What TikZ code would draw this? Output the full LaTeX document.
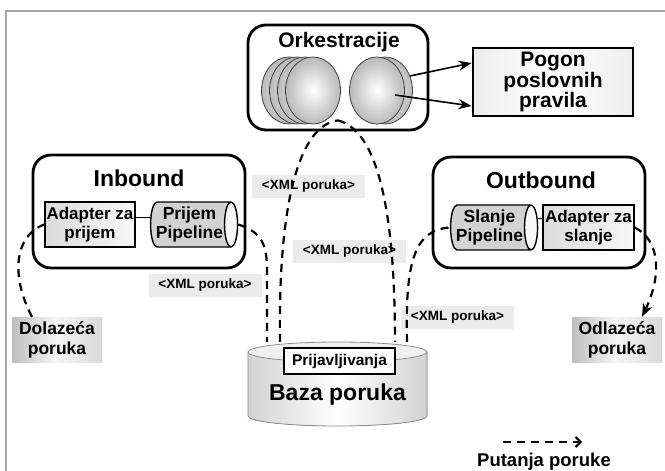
\documentclass[tikz,border=0pt]{standalone}
\usepackage{fontspec}
\setmainfont{Liberation Sans}
\usepackage{tikz}
\usetikzlibrary{shapes.geometric, arrows.meta, positioning, calc}
\definecolor{framegray}{HTML}{A6A6A6}
\definecolor{labelgray}{HTML}{EBEBEB}
\definecolor{outlinegray}{HTML}{8C8C8C}

\begin{document}
\begin{tikzpicture}[
    x=1pt, y=-1pt,
    group/.style={
        draw,
        line width=2.8pt,
        rounded corners=18pt
    },
    grouptitle/.style={font=\bfseries\fontsize{23}{25}\selectfont},
    orchtitle/.style={font=\bfseries\fontsize{21}{23}\selectfont},
    adapter/.style={
        draw,
        line width=1.4pt,
        left color=gray!28,
        right color=gray!6,
        align=center,
        minimum width=90pt,
        minimum height=45pt,
        inner sep=1pt,
        font=\bfseries\fontsize{17}{19}\selectfont
    },
    pipe/.style={
        cylinder,
        draw,
        line width=1.4pt,
        shape aspect=0.35,
        cylinder uses custom fill,
        cylinder body fill=gray!35,
        cylinder end fill=gray!6,
        minimum width=45pt,
        minimum height=87pt,
        inner xsep=0pt,
        inner ysep=1pt,
        align=center,
        font=\bfseries\fontsize{17.5}{19}\selectfont
    },
    sphere/.style={
        ellipse,
        draw=black!75,
        line width=0.8pt,
        inner color=white,
        outer color=gray!55,
        minimum width=55pt,
        minimum height=67pt,
        inner sep=0pt
    },
    msgbox/.style={
        left color=gray!50,
        right color=gray!30,
        middle color=gray!8,
        minimum width=90pt,
        minimum height=45pt,
        align=center,
        font=\bfseries\fontsize{17.5}{20}\selectfont
    },
    xmllabel/.style={
        fill=labelgray,
        minimum width=113pt,
        minimum height=23pt,
        inner sep=0pt,
        font=\bfseries\fontsize{13.5}{15}\selectfont
    },
    flow/.style={
        -{Stealth[length=13pt, width=10pt]},
        line width=1.6pt
    },
    route/.style={
        line width=2.2pt,
        dash pattern=on 8pt off 6pt
    }
]
\useasboundingbox (0,0) rectangle (665,471);

% frame
\draw[framegray, line width=1.5pt] (6,471) -- (6,11) -- (665,11);

% Orkestracije
\node[group, minimum width=180pt, minimum height=105pt] (orch) at (338,77.5) {};
\node[orchtitle] at (339,42.5) {Orkestracije};
\foreach \i/\cx in {1/289, 2/297, 3/305, 4/313}
    \node[sphere] (sphL\i) at (\cx,90.5) {};
\node[sphere] (sphR2) at (385,90.5) {};
\node[sphere] (sphR1) at (377,90.5) {};

% Pogon poslovnih pravila
\node[draw, line width=2.8pt, left color=gray!14, right color=gray!14, middle color=white,
      minimum width=160pt, minimum height=68pt, align=center,
      font=\bfseries\fontsize{21}{19}\selectfont] (pogon) at (553,82) {Pogon\\poslovnih\\pravila};
\draw[flow] (sphR2.30) -- ([yshift=19pt]pogon.west);
\draw[flow] ($(sphR1.center)+(18,4.5)$) -- ([yshift=-24pt]pogon.west);

% Inbound
\node[group, minimum width=212pt, minimum height=113pt] (inbound) at (139,211.5) {};
\node[grouptitle] at (139,178.3) {Inbound};
\node[adapter] (adapterIn) at (90,224.5) {Adapter za\\prijem};
\node[pipe] (pipeIn) at (189.5,224.5) {Prijem\\Pipeline};
\draw[line width=1.4pt] ([yshift=7pt]adapterIn.east) -- ([yshift=7pt]pipeIn.west);

% Outbound
\node[group, minimum width=212pt, minimum height=111pt] (outbound) at (539,212.5) {};
\node[grouptitle] at (541,180) {Outbound};
\node[pipe] (pipeOut) at (489.5,227.5) {Slanje\\Pipeline};
\node[adapter, minimum width=91pt] (adapterOut) at (588.5,227.5) {Adapter za\\slanje};
\draw[line width=1.4pt] ([yshift=9pt]pipeOut.east) -- ([yshift=9pt]adapterOut.west);

% Baza poruka
\fill[left color=gray!35, right color=gray!35, middle color=white]
    (248,352) -- (248,416) arc[start angle=180, end angle=0, x radius=89.5, y radius=10] -- (427,352) -- cycle;
\draw[outlinegray, line width=0.8pt]
    (248,352) -- (248,416) arc[start angle=180, end angle=0, x radius=89.5, y radius=10] -- (427,352);
\draw[outlinegray, line width=0.8pt, fill=gray!12] (337.5,352) ellipse [x radius=89.5, y radius=10];
\node[minimum width=179pt, minimum height=84pt, inner sep=0pt] (baza) at (337.5,384) {};
\node[grouptitle] (bazaText) at (337.5,395) {Baza poruka};
\node[draw, line width=1.8pt, fill=white, minimum width=111pt, minimum height=26pt, inner sep=0pt,
      font=\bfseries\fontsize{15.5}{17}\selectfont] (prijav) at (339.5,361) {Prijavljivanja};

% Messages
\node[msgbox] (dolazeca) at (57,339.5) {Dolazeća\\poruka};
\node[msgbox] (odlazeca) at (617,339.5) {Odlazeća\\poruka};

% XML labels
\node[xmllabel] (xml1) at (308.5,186) {<XML poruka>};
\node[xmllabel] (xml2) at (349.5,251) {<XML poruka>};
\node[xmllabel] (xml3) at (205,285) {<XML poruka>};
\node[xmllabel] (xml4) at (457.5,317) {<XML poruka>};

% Message route
\coordinate (orchIn) at ([yshift=11pt]orch.south);
\draw[route] ([xshift=-25pt]dolazeca.north) .. controls (10,275) and (15,235) .. (adapterIn.west);
\draw[route] (pipeIn.east) .. controls (262,232) and (267,245) .. (267,270) -- ([xshift=-70.5pt]baza.north);
\draw[route] ([xshift=-57.5pt]baza.north) .. controls (278,200) and (300,125) .. (orchIn);
\draw[route] (orchIn) .. controls (375,130) and (395,200) .. ([xshift=57.5pt]baza.north);
\draw[route] ([xshift=69.5pt]baza.north) .. controls (405,260) and (415,230) .. (pipeOut.west);
\draw[route, -{Stealth[length=13pt, width=10pt]}] (adapterOut.east) .. controls (660,240) and (662,275) .. ([xshift=25pt]odlazeca.north);

% Legend
\coordinate (legS) at (503,442);
\coordinate (legE) at (582,442);
\draw[route, line width=2pt, -{Straight Barb[length=5pt, width=10pt]}] (legS) -- (legE);
\node[font=\bfseries\fontsize{18.5}{20}\selectfont] (legend) at (544,462) {Putanja poruke};

\end{tikzpicture}
\end{document}
